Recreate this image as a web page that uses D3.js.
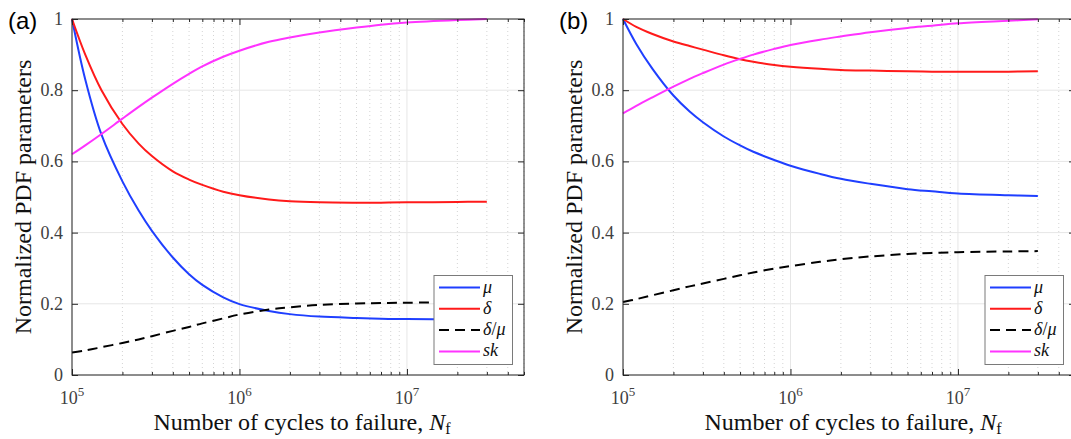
<!DOCTYPE html>
<html>
<head>
<meta charset="utf-8">
<script src="https://cdn.jsdelivr.net/npm/d3@7"></script>
<style>
  body { margin: 0; background: #fff; }
</style>
</head>
<body>
<script>
// cycles to failure (shared x for both panels)
var cycles = [1e5, 1.2e5, 1.5e5, 2e5, 2.5e5, 3e5, 4e5, 5e5, 6e5, 8e5, 1e6, 1.5e6, 2e6, 3e6, 5e6, 7e6, 1e7, 2e7, 3e7];

// panel (a)
var muA    = [1.0, 0.83, 0.675, 0.544, 0.462, 0.405, 0.33, 0.283, 0.253, 0.218, 0.199, 0.18, 0.171, 0.164, 0.16, 0.158, 0.157, 0.156, 0.156];
var deltaA = [1.0, 0.9, 0.8, 0.705, 0.65, 0.615, 0.572, 0.549, 0.534, 0.515, 0.505, 0.493, 0.488, 0.485, 0.484, 0.484, 0.485, 0.486, 0.487];
var ratioA = [0.063, 0.069, 0.078, 0.09, 0.1, 0.109, 0.124, 0.135, 0.145, 0.159, 0.17, 0.184, 0.19, 0.197, 0.201, 0.202, 0.203, 0.204, 0.204];
var skA    = [0.62, 0.645, 0.677, 0.72, 0.753, 0.779, 0.818, 0.846, 0.867, 0.894, 0.911, 0.936, 0.948, 0.962, 0.976, 0.984, 0.99, 0.997, 1.0];

// panel (b)
var muB    = [1.0, 0.93, 0.86, 0.785, 0.74, 0.71, 0.67, 0.645, 0.627, 0.604, 0.588, 0.565, 0.551, 0.537, 0.522, 0.516, 0.51, 0.505, 0.503];
var deltaB = [1.0, 0.978, 0.958, 0.937, 0.924, 0.914, 0.898, 0.887, 0.88, 0.871, 0.866, 0.86, 0.857, 0.855, 0.853, 0.852, 0.852, 0.852, 0.853];
var ratioB = [0.205, 0.213, 0.224, 0.238, 0.249, 0.257, 0.27, 0.28, 0.288, 0.299, 0.306, 0.318, 0.325, 0.333, 0.34, 0.343, 0.345, 0.347, 0.348];
var skB    = [0.735, 0.756, 0.78, 0.81, 0.832, 0.848, 0.872, 0.888, 0.9, 0.916, 0.927, 0.942, 0.951, 0.963, 0.975, 0.981, 0.988, 0.995, 0.999];

var yTicks = [0, 0.2, 0.4, 0.6, 0.8, 1];
var yTickLabels = ["0", "0.2", "0.4", "0.6", "0.8", "1"];
var xDecades = [1e5, 1e6, 1e7];
var xExps = ["5", "6", "7"];

var width = 1071, height = 439;
var serif = "'Liberation Serif', serif";
var sans = "'Liberation Sans', sans-serif";

var svg = d3.select("body").append("svg")
    .attr("width", width)
    .attr("height", height)
    .style("font-family", serif);

drawPanel(72, "(a)", [muA, deltaA, ratioA, skA]);
drawPanel(623, "(b)", [muB, deltaB, ratioB, skB]);

function drawPanel(ox, label, series){
    var w = 452, top = 19, bottom = 375;
    var x = d3.scaleLog().domain([1e5, 5e7]).range([ox, ox + w]);
    var y = d3.scaleLinear().domain([0, 1]).range([bottom, top]);

    var g = svg.append("g");

    // minor x values (2..9 per decade)
    var minor = [];
    [1e5, 1e6, 1e7].forEach(function(d){
        for (var k = 2; k <= 9; k++) if (d * k <= 5e7) minor.push(d * k);
    });

    // grid
    g.selectAll(".minorgrid").data(minor).enter().append("line")
        .attr("x1", function(d){ return x(d); }).attr("x2", function(d){ return x(d); })
        .attr("y1", top).attr("y2", bottom)
        .attr("stroke", "#d4d4d4").attr("stroke-width", 1).attr("stroke-dasharray", "1,3");
    g.selectAll(".xgrid").data(xDecades).enter().append("line")
        .attr("x1", function(d){ return x(d); }).attr("x2", function(d){ return x(d); })
        .attr("y1", top).attr("y2", bottom)
        .attr("stroke", "#e6e6e6").attr("stroke-width", 1);
    g.selectAll(".ygrid").data(yTicks).enter().append("line")
        .attr("x1", ox).attr("x2", ox + w)
        .attr("y1", function(d){ return y(d); }).attr("y2", function(d){ return y(d); })
        .attr("stroke", "#e6e6e6").attr("stroke-width", 1);

    // curves
    var colors = ["#1f3fff", "#ff1a1a", "#000000", "#ff33ff"];
    var line = d3.line()
        .x(function(d, i){ return x(cycles[i]); })
        .y(function(d){ return y(d); })
        .curve(d3.curveCatmullRom.alpha(0.5));
    series.forEach(function(s, i){
        g.append("path")
            .datum(s)
            .attr("d", line)
            .attr("fill", "none")
            .attr("stroke", colors[i])
            .attr("stroke-width", 2)
            .attr("stroke-dasharray", i == 2 ? "10,6" : null);
    });

    // axes (ticks pointing inward, box all round)
    var axCol = "#262626";
    function style(a){
        a.select(".domain").remove();
        a.selectAll("line").attr("stroke", axCol);
        a.selectAll("text").remove();
    }
    g.append("g").attr("transform", "translate(0," + bottom + ")")
        .call(d3.axisBottom(x).tickValues(xDecades).tickSizeInner(-6).tickSizeOuter(0)).call(style);
    g.append("g").attr("transform", "translate(0," + bottom + ")")
        .call(d3.axisBottom(x).tickValues(minor).tickSizeInner(-3).tickSizeOuter(0)).call(style);
    g.append("g").attr("transform", "translate(0," + top + ")")
        .call(d3.axisTop(x).tickValues(xDecades).tickSizeInner(-6).tickSizeOuter(0)).call(style);
    g.append("g").attr("transform", "translate(0," + top + ")")
        .call(d3.axisTop(x).tickValues(minor).tickSizeInner(-3).tickSizeOuter(0)).call(style);
    g.append("g").attr("transform", "translate(" + ox + ",0)")
        .call(d3.axisLeft(y).tickValues(yTicks).tickSizeInner(-6).tickSizeOuter(0)).call(style);
    g.append("g").attr("transform", "translate(" + (ox + w) + ",0)")
        .call(d3.axisRight(y).tickValues(yTicks).tickSizeInner(-6).tickSizeOuter(0)).call(style);

    g.append("rect")
        .attr("x", ox).attr("y", top).attr("width", w).attr("height", bottom - top)
        .attr("fill", "none").attr("stroke", axCol).attr("stroke-width", 1);

    // y tick labels
    g.selectAll(".ylab").data(yTicks).enter().append("text")
        .attr("x", ox - 9)
        .attr("y", function(d){ return y(d) + 6; })
        .attr("text-anchor", "end")
        .style("font-family", serif)
        .attr("font-size", 18)
        .attr("fill", "#404040")
        .text(function(d, i){ return yTickLabels[i]; });

    // x tick labels: 10^n
    var xl = g.selectAll(".xlab").data(xDecades).enter().append("text")
        .attr("x", function(d){ return x(d); })
        .attr("y", 404)
        .attr("text-anchor", "middle")
        .style("font-family", serif)
        .attr("font-size", 18)
        .attr("fill", "#404040");
    xl.append("tspan").text("10");
    xl.append("tspan").attr("dy", -8).attr("font-size", 13).text(function(d, i){ return xExps[i]; });

    // axis labels
    var xt = g.append("text")
        .attr("x", ox + w / 2 + 4)
        .attr("y", 430)
        .attr("text-anchor", "middle")
        .style("font-family", serif)
        .attr("font-size", 24)
        .attr("fill", "#111");
    xt.append("tspan").text("Number of cycles to failure, ");
    xt.append("tspan").attr("font-style", "italic").text("N");
    xt.append("tspan").attr("dy", 4).attr("font-size", 16).text("f");

    g.append("text")
        .attr("transform", "translate(" + (ox - 41) + "," + ((top + bottom) / 2) + ") rotate(-90)")
        .attr("text-anchor", "middle")
        .style("font-family", serif)
        .attr("font-size", 24)
        .attr("fill", "#111")
        .text("Normalized PDF parameters");

    // panel label
    g.append("text")
        .attr("x", ox - 64)
        .attr("y", 29)
        .style("font-family", sans)
        .attr("font-size", 24)
        .attr("fill", "#000")
        .text(label);

    // legend
    var lx = ox + 362, ly = 275.5;
    var lg = g.append("g");
    lg.append("rect")
        .attr("x", lx).attr("y", ly).attr("width", 78.5).attr("height", 89)
        .attr("fill", "#fff").attr("stroke", "#7a7a7a").attr("stroke-width", 1);
    var names = [["μ"], ["δ"], ["δ", "/", "μ"], ["sk"]];
    names.forEach(function(n, i){
        var cy = ly + 12 + i * 21.3;
        lg.append("line")
            .attr("x1", lx + 5).attr("x2", lx + 46)
            .attr("y1", cy).attr("y2", cy)
            .attr("stroke", colors[i]).attr("stroke-width", 2)
            .attr("stroke-dasharray", i == 2 ? "10,6" : null);
        var t = lg.append("text")
            .attr("x", lx + 49).attr("y", cy + 5)
            .style("font-family", serif)
            .attr("font-size", 18).attr("fill", "#111");
        n.forEach(function(p){
            t.append("tspan").attr("font-style", p == "/" ? "normal" : "italic").text(p);
        });
    });
}
</script>
</body>
</html>
